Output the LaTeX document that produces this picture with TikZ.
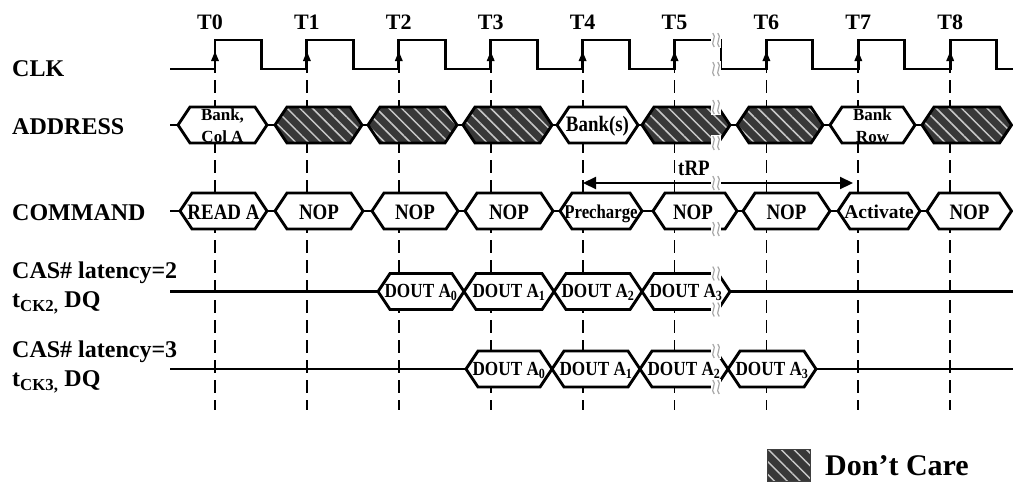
\documentclass[tikz,border=0pt]{standalone}
\usepackage{fontspec}
\setmainfont{Liberation Serif}
\newfontfamily\condfont[FakeStretch=0.86]{Liberation Serif}
\usetikzlibrary{patterns.meta,arrows.meta}
\definecolor{dcfill}{HTML}{383838}
\definecolor{dcstripe}{HTML}{C8C8C8}
\definecolor{brkgray}{HTML}{A8A8A8}
\newcommand\hexw[4]{\path[hexline,#4] (#1,#3) -- (#1+12,#3-18) -- (#2-12,#3-18) -- (#2,#3) -- (#2-12,#3+18) -- (#1+12,#3+18) -- cycle;}
\newcommand\brkmark[2]{\fill[white] (#1-5,#2-8) rectangle (#1+5,#2+8);
  \draw[brkline] (#1-3.2,#2-7) .. controls (#1+1.5,#2-3) and (#1-6.5,#2+3) .. (#1-1.8,#2+7);
  \draw[brkline] (#1+1.8,#2-7) .. controls (#1+6.5,#2-3) and (#1-1.5,#2+3) .. (#1+3.2,#2+7);}
\begin{document}
\begin{tikzpicture}[x=1pt,y=-1pt,
  sig/.style={line width=2.9pt},
  vdash/.style={line width=1.8pt, dash pattern=on 13pt off 7pt},
  hexline/.style={draw=black, line width=2.9pt, line join=miter},
  wh/.style={fill=white},
  dc/.style={preaction={fill=dcfill}, pattern={Lines[angle=-45,distance=9pt,line width=1.5pt]}, pattern color=dcstripe},
  brkline/.style={draw=brkgray, line width=1.2pt},
  lab/.style={anchor=west, inner sep=0, font=\bfseries\fontsize{24}{28}\selectfont},
  tlab/.style={inner sep=0, font=\bfseries\fontsize{22}{26}\selectfont},
  hext/.style={inner sep=0, font=\condfont\bfseries\fontsize{22}{22}\selectfont},
  dout/.style={inner sep=0, font=\condfont\bfseries\fontsize{20}{20}\selectfont},
  small/.style={inner sep=0, align=center, font=\bfseries\fontsize{17}{22}\selectfont},
  arr/.style={line width=2.2pt, {Triangle[length=13pt,width=12pt]}-{Triangle[length=13pt,width=12pt]}},
]
\useasboundingbox (0,0) rectangle (1013,483);

% dashed edge lines
\foreach \k in {0,...,8}{
  \pgfmathsetmacro\tx{215+91.9*\k}
  \draw[vdash] (\tx,60) -- (\tx,410);
}

% bus lines
\draw[sig] (170,125) -- (1012,125);
\draw[sig] (170,211) -- (1012,211);
\draw[sig] (170,291.5) -- (378,291.5);
\draw[sig] (730,291.5) -- (1013,291.5);
\draw[sig] (170,369) -- (466,369);
\draw[sig] (816,369) -- (1013,369);

% address
\hexw{178}{267}{125}{wh}
\hexw{275}{362}{125}{dc}
\hexw{368}{457}{125}{dc}
\hexw{463}{552}{125}{dc}
\hexw{557}{638}{125}{wh}
\hexw{642}{730}{125}{dc}
\hexw{737}{823}{125}{dc}
\hexw{830}{915}{125}{wh}
\hexw{922}{1011.5}{125}{dc}

% command
\hexw{180}{267}{211}{wh}
\hexw{275}{363}{211}{wh}
\hexw{372}{458}{211}{wh}
\hexw{465}{553}{211}{wh}
\hexw{560}{642}{211}{wh}
\hexw{653}{737}{211}{wh}
\hexw{743}{830}{211}{wh}
\hexw{838}{920}{211}{wh}
\hexw{927}{1011.5}{211}{wh}

% CL2
\hexw{378}{464}{291.5}{wh}
\hexw{464}{554}{291.5}{wh}
\hexw{554}{642}{291.5}{wh}
\hexw{642}{730}{291.5}{wh}
% CL3
\hexw{466}{552}{369}{wh}
\hexw{552}{640}{369}{wh}
\hexw{640}{728}{369}{wh}
\hexw{728}{816}{369}{wh}

% clock
\draw[sig] (170,69) foreach \k in {0,...,8} { -- ({215+91.9*\k},69) -- ({215+91.9*\k},40) -- ({261.5+91.9*\k},40) -- ({261.5+91.9*\k},69) } -- (1013,69);
\foreach \k in {0,...,8}{
  \pgfmathsetmacro\tx{215+91.9*\k}
  \fill (\tx-4,61) -- (\tx,51.5) -- (\tx+4,61) -- cycle;
}

% tRP
\coordinate (rpa) at (583,183);
\coordinate (rpb) at (853,183);
\draw[arr] (rpa) -- (rpb);

% breaks
\brkmark{716}{40}
\brkmark{716}{69}
\brkmark{716}{107}
\brkmark{716}{143}
\brkmark{716}{183}
\brkmark{716}{229}
\brkmark{716}{273.5}
\brkmark{716}{309.5}
\brkmark{716}{351}
\brkmark{716}{387}

% T labels
\node[tlab] (tl0) at (210,22) {T0};
\foreach \k in {1,...,8}{
  \pgfmathsetmacro\tx{215+91.9*\k}
  \node[tlab] (tl\k) at (\tx,22) {T\k};
}

% left labels
\node[lab] (clk) at (12,69) {CLK};
\node[lab] (addr) at (12,127) {ADDRESS};
\node[lab] (cmd) at (12,213) {COMMAND};
\node[lab] (cl2) at (12,273) {CAS\# latency=2};
\node[lab] (dq2) at (12,303) {t\textsubscript{CK2,} DQ};
\node[lab] (cl3) at (12,352) {CAS\# latency=3};
\node[lab] (dq3) at (12,382) {t\textsubscript{CK3,} DQ};

% address texts
\node[small] (a0) at (222.5,126) {Bank,\\Col A};
\node[hext] (a4) at (597.5,126) {Bank(s)};
\node[small] (a7) at (872.5,126) {Bank\\Row};

% command texts
\node[hext] (c0) at (223.5,212) {READ A};
\node[hext] (c1) at (319,212) {NOP};
\node[hext] (c2) at (415,212) {NOP};
\node[hext] (c3) at (509,212) {NOP};
\node[hext, anchor=base, font=\condfont\bfseries\fontsize{19.5}{20}\selectfont] (c4) at (601,218.5) {Precharge};
\node[hext] (c5) at (693,212) {NOP};
\node[hext] (c6) at (786.5,212) {NOP};
\node[hext, font=\bfseries\fontsize{19.5}{20}\selectfont] (c7) at (879,212) {Activate};
\node[hext] (c8) at (969.5,212) {NOP};

\node[hext] (trp) at (694,168) {tRP};

% data texts
\node[dout] (d20) at (421,292.5) {DOUT A\textsubscript{0}};
\node[dout] (d21) at (509,292.5) {DOUT A\textsubscript{1}};
\node[dout] (d22) at (598,292.5) {DOUT A\textsubscript{2}};
\node[dout] (d23) at (686,292.5) {DOUT A\textsubscript{3}};
\node[dout] (d30) at (509,370) {DOUT A\textsubscript{0}};
\node[dout] (d31) at (596,370) {DOUT A\textsubscript{1}};
\node[dout] (d32) at (684,370) {DOUT A\textsubscript{2}};
\node[dout] (d33) at (772,370) {DOUT A\textsubscript{3}};

% legend
\path[dc, draw=black!75, line width=1pt] (767,449) rectangle (810,481.5);
\node[anchor=west, inner sep=0, font=\bfseries\fontsize{30}{34}\selectfont] (dcare) at (825,466) {Don’t Care};
\end{tikzpicture}
\end{document}
